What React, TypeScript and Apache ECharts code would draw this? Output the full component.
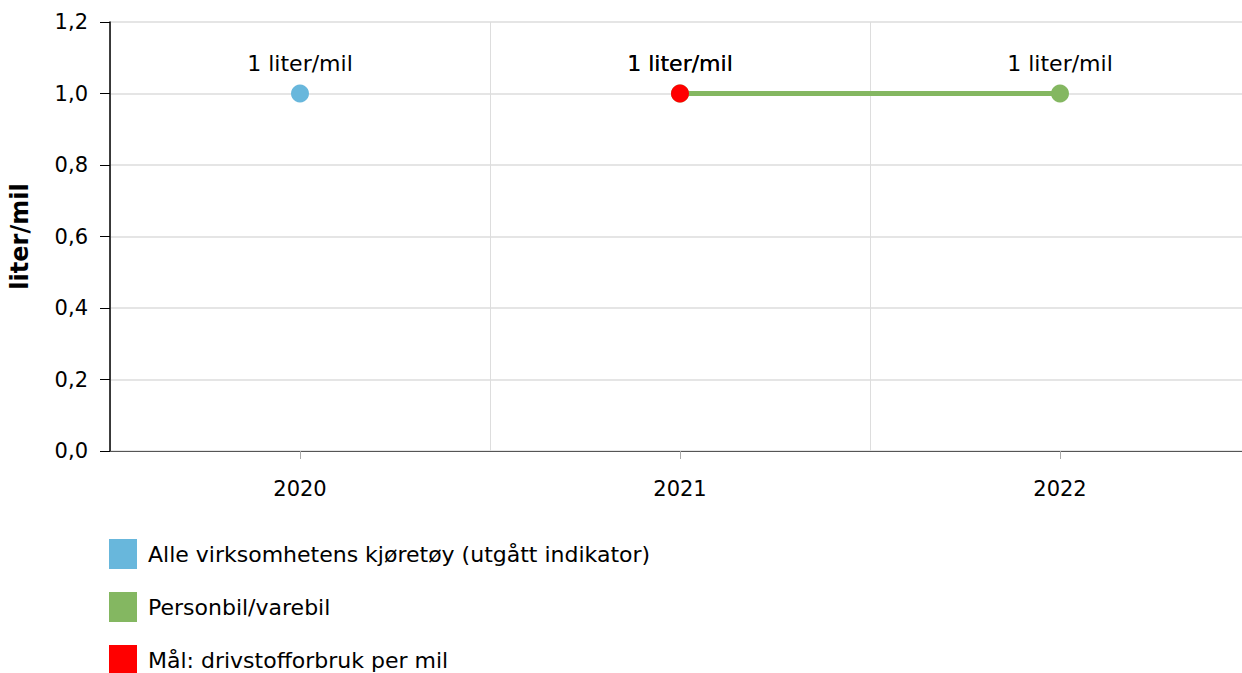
import React, { useEffect, useRef } from "react";
import * as echarts from "echarts";

const categories = ["2020", "2021", "2022"];
const alleKjoretoy = [1, null, null];
const personbil = [null, 1, 1];
const maal = [null, 1, null];
const seriesNames = [
  "Alle virksomhetens kjøretøy (utgått indikator)",
  "Personbil/varebil",
  "Mål: drivstofforbruk per mil",
];
const colors = ["#68b7dc", "#84b761", "#ff0000"];
const FONT = "DejaVu Sans, Verdana, sans-serif";

export default function App() {
  const ref = useRef<HTMLDivElement>(null);
  useEffect(() => {
    if (!ref.current) return;
    const chart = echarts.init(ref.current, undefined, { renderer: "svg" });
    const label = {
      show: true,
      position: "top",
      distance: 10,
      formatter: (p: any) => `${p.value} liter/mil`,
      fontFamily: FONT,
      fontSize: 22,
      color: "#000",
    };
    const mk = (i: number, data: any[], z: number) => ({
      name: seriesNames[i],
      type: "line",
      data,
      z,
      symbol: "circle",
      symbolSize: 18,
      showSymbol: true,
      connectNulls: false,
      itemStyle: { color: colors[i] },
      lineStyle: { color: colors[i], width: 5 },
      label,
    });
    chart.setOption({
      animation: false,
      textStyle: { fontFamily: FONT },
      color: colors,
      grid: {
        left: 110,
        top: 22,
        width: 1140,
        height: 429,
        containLabel: false,
        outerBoundsMode: "none",
      },
      legend: {
        orient: "vertical",
        left: 109,
        top: 539,
        height: 200,
        padding: 0,
        itemWidth: 28,
        itemHeight: 30,
        itemGap: 23,
        icon: "rect",
        textStyle: { fontFamily: FONT, fontSize: 22, color: "#000", padding: [0, 0, 0, 6] },
        data: seriesNames.map((n, i) => ({ name: n, itemStyle: { color: colors[i] } })),
      },
      xAxis: {
        type: "category",
        data: categories,
        boundaryGap: true,
        axisLine: { lineStyle: { color: "#555", width: 1 } },
        axisTick: { show: true, alignWithLabel: true, length: 8, lineStyle: { color: "#aaa" } },
        axisLabel: { fontFamily: FONT, fontSize: 21, color: "#000", margin: 27 },
        splitLine: { show: true, lineStyle: { color: "#dddddd" } },
      },
      yAxis: {
        type: "value",
        min: 0,
        max: 1.2,
        interval: 0.2,
        name: "liter/mil",
        nameLocation: "middle",
        nameGap: 78,
        nameTextStyle: { fontFamily: FONT, fontSize: 24, fontWeight: "bold", color: "#000" },
        axisLine: { show: true, lineStyle: { color: "#000", width: 1.5 } },
        axisTick: { show: true, length: 10, lineStyle: { color: "#000" } },
        axisLabel: {
          fontFamily: FONT,
          fontSize: 21,
          color: "#000",
          margin: 22,
          formatter: (v: number) => v.toFixed(1).replace(".", ","),
        },
        splitLine: { show: true, lineStyle: { color: "#dddddd", width: 1.5 } },
      },
      series: [mk(0, alleKjoretoy, 2), mk(1, personbil, 3), mk(2, maal, 4)],
    });
    return () => chart.dispose();
  }, []);
  return (
    <div style={{ position: "absolute", left: 0, top: 0, width: 1242, height: 673, overflow: "hidden", background: "#fff" }}>
      <div ref={ref} style={{ width: 1250, height: 673 }} />
    </div>
  );
}
